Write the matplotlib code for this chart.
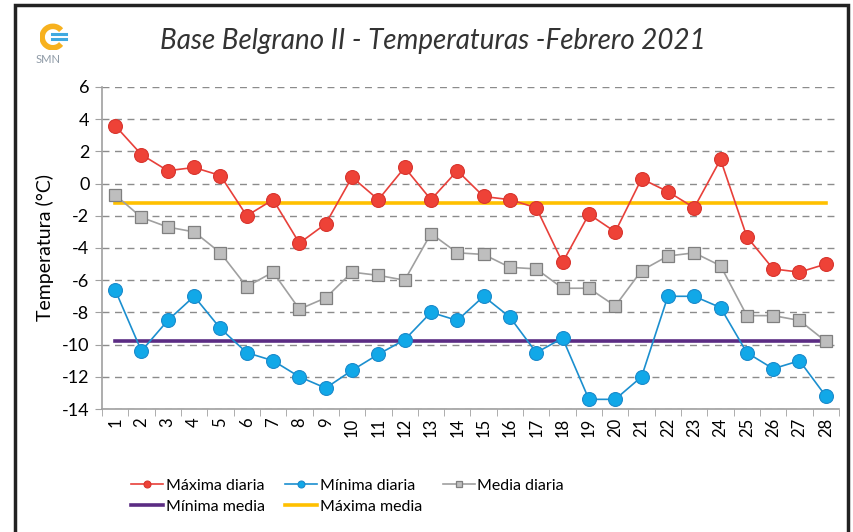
import matplotlib
matplotlib.use("Agg")
import matplotlib.pyplot as plt
from matplotlib.patches import Rectangle, Arc

# daily temperatures, February 2021 (°C)
days = list(range(1, 29))
maxima = [3.6, 1.8, 0.8, 1.0, 0.5, -2.0, -1.0, -3.7, -2.5, 0.4,
          -1.0, 1.0, -1.0, 0.8, -0.8, -1.0, -1.5, -4.9, -1.9, -3.0,
          0.3, -0.5, -1.5, 1.5, -3.3, -5.3, -5.5, -5.0]
minima = [-6.6, -10.4, -8.5, -7.0, -9.0, -10.5, -11.0, -12.0, -12.7, -11.6,
          -10.6, -9.7, -8.0, -8.5, -7.0, -8.3, -10.5, -9.6, -13.4, -13.4,
          -12.0, -7.0, -7.0, -7.7, -10.5, -11.5, -11.0, -13.2]
media = [-0.7, -2.1, -2.7, -3.0, -4.3, -6.4, -5.5, -7.8, -7.1, -5.5,
         -5.7, -6.0, -3.1, -4.3, -4.4, -5.2, -5.3, -6.5, -6.5, -7.6,
         -5.4, -4.5, -4.3, -5.1, -8.2, -8.2, -8.5, -9.8]
maxima_media = -1.2
minima_media = -9.8

yticks = list(range(-14, 7, 2))

plt.rcParams["font.family"] = ["Lato", "DejaVu Sans"]

fig = plt.figure(figsize=(8.54, 5.32), dpi=100)
ax = fig.add_axes([0.1194, 0.2312, 0.8630, 0.6053])

ax.plot(days, maxima, color="#E8403A", lw=1.2, marker="o", ms=10,
        mfc="#EE4237", mec="#D8352E", mew=0.8, label="Máxima diaria", zorder=4)
ax.plot(days, minima, color="#1B8FCF", lw=1.2, marker="o", ms=10,
        mfc="#11A8E8", mec="#1B8ACB", mew=0.8, label="Mínima diaria", zorder=4)
ax.plot(days, media, color="#A0A0A0", lw=1.2, marker="s", ms=9,
        mfc="#BEBEBE", mec="#7F7F7F", mew=0.9, label="Media diaria", zorder=3)
ax.plot([days[0], days[-1]], [minima_media, minima_media], color="#5B2C83",
        lw=2.6, label="Mínima media", zorder=2)
ax.plot([days[0], days[-1]], [maxima_media, maxima_media], color="#FFC000",
        lw=2.6, label="Máxima media", zorder=2)

ax.set_xlim(0.5, 28.5)
ax.set_ylim(-14, 6)
ax.set_yticks(yticks)
ax.set_yticklabels([str(v) for v in yticks], fontsize=13)
ax.set_xticks(days)
ax.set_xticklabels([str(d) for d in days], rotation=90, fontsize=12)
ax.set_xticks([d + 0.5 for d in range(0, 29)], minor=True)
ax.tick_params(axis="x", which="major", length=0, pad=6)
ax.tick_params(axis="x", which="minor", length=5, color="#A0A0A0")
ax.tick_params(axis="y", length=5, color="#A0A0A0", pad=4)

ax.grid(axis="y", ls=(0, (5, 4)), color="#8C8C8C", lw=1.0)
ax.set_axisbelow(True)
for side in ["top", "right"]:
    ax.spines[side].set_visible(False)
for side in ["left", "bottom"]:
    ax.spines[side].set_color("#A0A0A0")
    ax.spines[side].set_linewidth(1.2)

ax.set_ylabel("Temperatura (°C)", fontsize=14, labelpad=6)

fig.suptitle("Base Belgrano II - Temperaturas -Febrero 2021", x=0.507, y=0.948,
             fontsize=20, style="italic", color="#333333")

# outer frame
fig.patches.append(Rectangle((15 / 854, -0.05), 833 / 854, 1.05 - 5 / 532,
                             transform=fig.transFigure, fill=False,
                             ec="#222222", lw=2.5))

# SMN logo
lax = fig.add_axes([40 / 854, 1 - 50 / 532, 30 / 854, 28 / 532])
lax.set_xlim(-1.2, 1.6)
lax.set_ylim(-1.2, 1.4)
lax.set_aspect("equal")
lax.axis("off")
lax.add_patch(Arc((0, 0), 2.0, 2.0, theta1=40, theta2=320, color="#F7B11E", lw=4))
for yy in (0.25, -0.15):
    lax.plot([-0.1, 1.2], [yy, yy], color="#3FA9E0", lw=2.2)
fig.text(48 / 854, 1 - 60 / 532, "SMN", fontsize=8, color="#8E9AA6",
         ha="center", va="center")

handles, labels = ax.get_legend_handles_labels()
order = [0, 3, 1, 4, 2]
fig.legend([handles[i] for i in order], [labels[i] for i in order],
           loc="upper left", bbox_to_anchor=(125 / 854, 1 - 472 / 532), ncol=3,
           frameon=False, fontsize=11.5, handlelength=2.0, handletextpad=0.15,
           columnspacing=1.3, labelspacing=0.45, borderaxespad=0,
           markerscale=0.5)

fig.savefig("out.png", dpi=100, facecolor="white")
